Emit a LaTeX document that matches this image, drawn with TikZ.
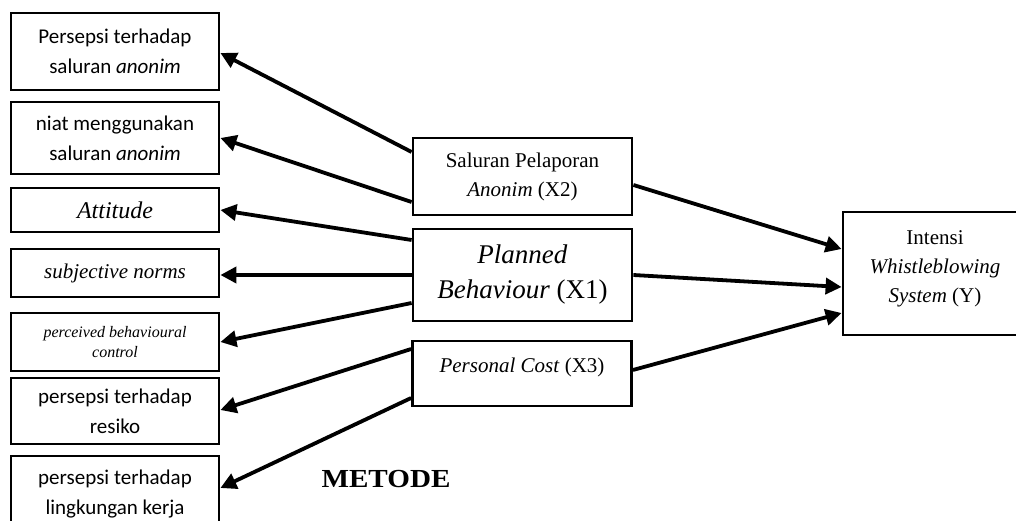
\documentclass[tikz,border=0pt]{standalone}
\usepackage{fontspec}
\setmainfont{Liberation Serif}
\newfontfamily\calibri{Carlito}
\usetikzlibrary{arrows.meta}
\begin{document}
\begin{tikzpicture}[x=1pt,y=-1pt,
  box/.style={draw, line width=2.8pt, align=center, inner sep=0pt},
  lbox/.style={box, minimum width=208pt, font=\calibri\fontsize{21}{30}\selectfont},
  mbox/.style={box, minimum width=219pt},
  arr/.style={line width=3.8pt, -{Triangle[length=16pt,width=16pt]}}]
\useasboundingbox (0,0) rectangle (1016,521);
% left boxes
\node[lbox, minimum height=77pt] (b1) at (115,51.5) {Persepsi terhadap\\saluran \textit{anonim}};
\node[lbox, minimum height=72pt] (b2) at (115,138) {niat menggunakan\\saluran \textit{anonim}};
\node[lbox, minimum height=44pt, font=\fontsize{24}{28}\selectfont\itshape] (b3) at (115,210) {Attitude};
\node[lbox, minimum height=48pt, font=\fontsize{21}{26}\selectfont\itshape] (b4) at (115,273) {subjective norms};
\node[lbox, minimum height=58pt, font=\fontsize{16}{20}\selectfont\itshape] (b5) at (115,342) {perceived behavioural\\control};
\node[lbox, minimum height=66pt] (b6) at (115,411) {persepsi terhadap\\resiko};
\node[lbox, minimum height=76pt] (b7) at (115,494) {persepsi terhadap\\lingkungan kerja};
% middle boxes
\node[mbox, minimum height=77pt, font=\fontsize{21}{29}\selectfont] (sal) at (522.5,176.5) {Saluran Pelaporan\\\textit{Anonim} (X2)};
\node[mbox, minimum height=92pt, font=\fontsize{27}{35}\selectfont] (pb) at (522.5,275) {\textit{Planned}\\\textit{Behaviour} (X1)};
\node[mbox, minimum height=65pt, font=\fontsize{21}{29}\selectfont, text height=15pt, text depth=18pt] (pc) at (522,373.5) {\textit{Personal Cost} (X3)};
% right box
\node[box, minimum width=184pt, minimum height=123pt, font=\fontsize{21}{29}\selectfont, text height=72pt, text depth=15pt] (y) at (935,273.5) {Intensi\\\textit{Whistleblowing}\\\textit{System} (Y)};
% title
\node[font=\bfseries\fontsize{26}{30}\selectfont] (m) at (386,479) {\scalebox{1.12}[1]{METODE}};
% arrows to the left
\draw[arr] ([yshift=24.5pt]sal.west) -- ([yshift=-1.5pt]b1.east);
\draw[arr] ([yshift=-25.5pt]sal.west) -- (b2.east);
\draw[arr] ([yshift=35pt]pb.west) -- (b3.east);
\draw[arr] (pb.west) -- ([yshift=-2pt]b4.east);
\draw[arr] ([yshift=-28pt]pb.west) -- (b5.east);
\draw[arr] ([yshift=24.5pt]pc.west) -- ([yshift=1pt]b6.east);
\draw[arr] ([yshift=-24.5pt]pc.west) -- ([yshift=6pt]b7.east);
% arrows to the right
\draw[arr] ([yshift=-8.5pt]sal.east) -- ([yshift=24.5pt]y.west);
\draw[arr] (pb.east) -- ([yshift=-13.5pt]y.west);
\draw[arr] ([yshift=3.5pt]pc.east) -- ([yshift=-39.5pt]y.west);
\end{tikzpicture}
\end{document}
